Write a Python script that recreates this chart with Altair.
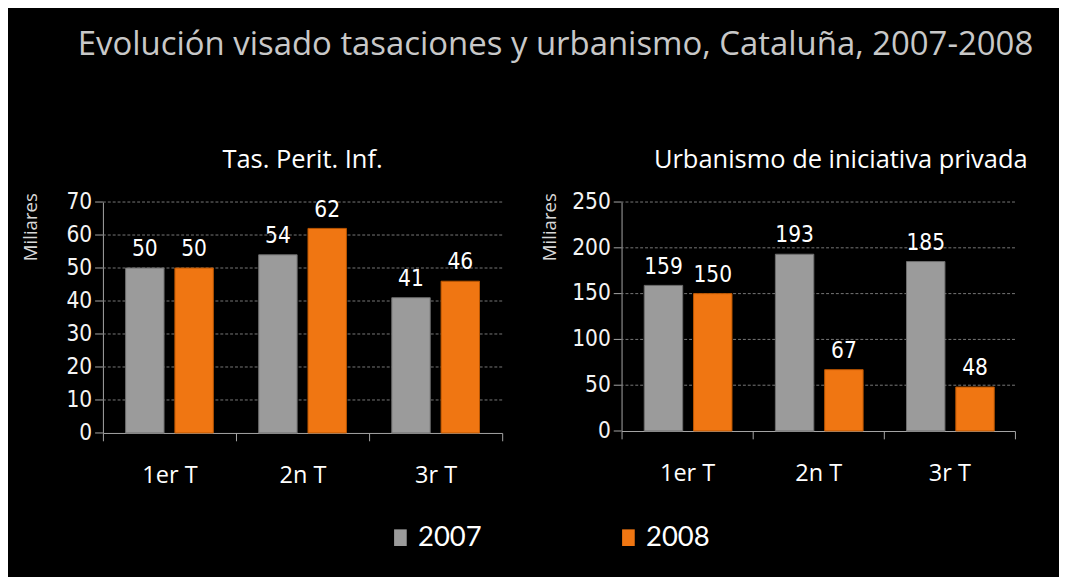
import altair as alt
import pandas as pd

quarters = ["1er T", "2n T", "3r T"]
years = ["2007", "2008"]
tas_2007 = [50, 54, 41]
tas_2008 = [50, 62, 46]
urb_2007 = [159, 193, 185]
urb_2008 = [150, 67, 48]
tas_ticks = [0, 10, 20, 30, 40, 50, 60, 70]
urb_ticks = [0, 50, 100, 150, 200, 250]
unit_label = ["Miliares"]

NUM = "Liberation Sans Narrow, DejaVu Sans Condensed, sans-serif"
HUM = "Open Sans, Noto Sans, sans-serif"
LEG = "Lato, Noto Sans, sans-serif"
AXC = "#a8a8a8"


def frame(v07, v08):
    rows = []
    for q, a, b in zip(quarters, v07, v08):
        rows.append({"q": q, "year": "2007", "v": a})
        rows.append({"q": q, "year": "2008", "v": b})
    return pd.DataFrame(rows)


color = alt.Color(
    "year:N",
    scale=alt.Scale(domain=years, range=["#9b9b9b", "#f07612"]),
    legend=alt.Legend(
        title=None, orient="none", legendX=290, legendY=329, direction="horizontal",
        symbolType="M-0.76,-1L0.76,-1L0.76,1L-0.76,1Z", symbolSize=289, symbolStrokeWidth=0,
        labelFont=LEG, labelFontSize=28, labelColor="white", columnPadding=136, labelOffset=4,
    ),
)
stroke = alt.Stroke("year:N", scale=alt.Scale(domain=years, range=["#6e6e6e", "#b95500"]), legend=None)


def panel(df, title, ticks, w, h, dx):
    sc = alt.Scale(domain=[ticks[0], ticks[-1]], nice=False)
    ax = alt.Axis(title=None)
    tdf = pd.DataFrame({"t": ticks})
    base = alt.Chart(df).encode(
        x=alt.X("q:N", sort=quarters, scale=alt.Scale(paddingInner=0, paddingOuter=0),
                axis=alt.Axis(title=None, tickBand="extent", grid=False, labelAngle=0)),
        xOffset=alt.XOffset("year:N", sort=years, scale=alt.Scale(paddingInner=0.22, paddingOuter=0.46)),
    )
    yv = alt.Y("v:Q", scale=sc, axis=ax)
    yt = alt.Y("t:Q", scale=sc, axis=ax)
    grid = alt.Chart(tdf).transform_filter("datum.t > 0").mark_rule(
        color="#7a7a7a", strokeDash=[3, 2], strokeWidth=1).encode(y=yt)
    tick = alt.Chart(tdf).mark_rule(color=AXC, strokeWidth=1).encode(
        y=yt, x=alt.value(-8), x2=alt.value(0))
    tlab = alt.Chart(tdf).mark_text(align="right", baseline="middle", font=NUM, fontSize=23,
                                    color="#f4f4f4").encode(y=yt, x=alt.value(-11), text="t:Q")
    unit = alt.Chart(pd.DataFrame({"u": unit_label})).mark_text(
        angle=270, align="right", baseline="middle", font=HUM, fontSize=19, color="#d8d8d8"
    ).encode(x=alt.value(-73), y=alt.value(-9), text="u:N")
    bars = base.mark_bar(strokeWidth=1).encode(y=yv, color=color, stroke=stroke)
    labels = base.mark_text(dy=-12, baseline="alphabetic", font=NUM, fontSize=23, color="white").encode(
        y=yv, text="v:Q")
    return alt.layer(grid, tick, tlab, unit, bars, labels).properties(
        width=w, height=h,
        title=alt.TitleParams(title, font=HUM, fontSize=26, color="white", fontWeight="normal",
                              offset=19, dx=dx),
    )


left = panel(frame(tas_2007, tas_2008), "Tas. Perit. Inf.", tas_ticks, 408, 236, 0)
right = panel(frame(urb_2007, urb_2008), "Urbanismo de iniciativa privada", urb_ticks, 402, 234, 23)

chart = alt.hconcat(left, right, spacing=39).properties(
    title=alt.TitleParams("Evolución visado tasaciones y urbanismo, Cataluña, 2007-2008",
                          font=HUM, fontSize=33.6, color="#c8c8c8", fontWeight="normal",
                          anchor="middle", offset=88, dx=31),
    padding={"left": 15, "top": 14, "right": 26, "bottom": 24},
).configure(background="black").configure_view(stroke=None).configure_axis(
    domainColor=AXC, tickColor=AXC, tickSize=8,
).configure_axisY(
    labels=False, ticks=False, grid=False,
).configure_axisX(
    labelColor="white", labelFont=HUM, labelFontSize=24, labelPadding=24,
)

chart.save("out.html", embed_options={"renderer": "svg", "actions": False})
